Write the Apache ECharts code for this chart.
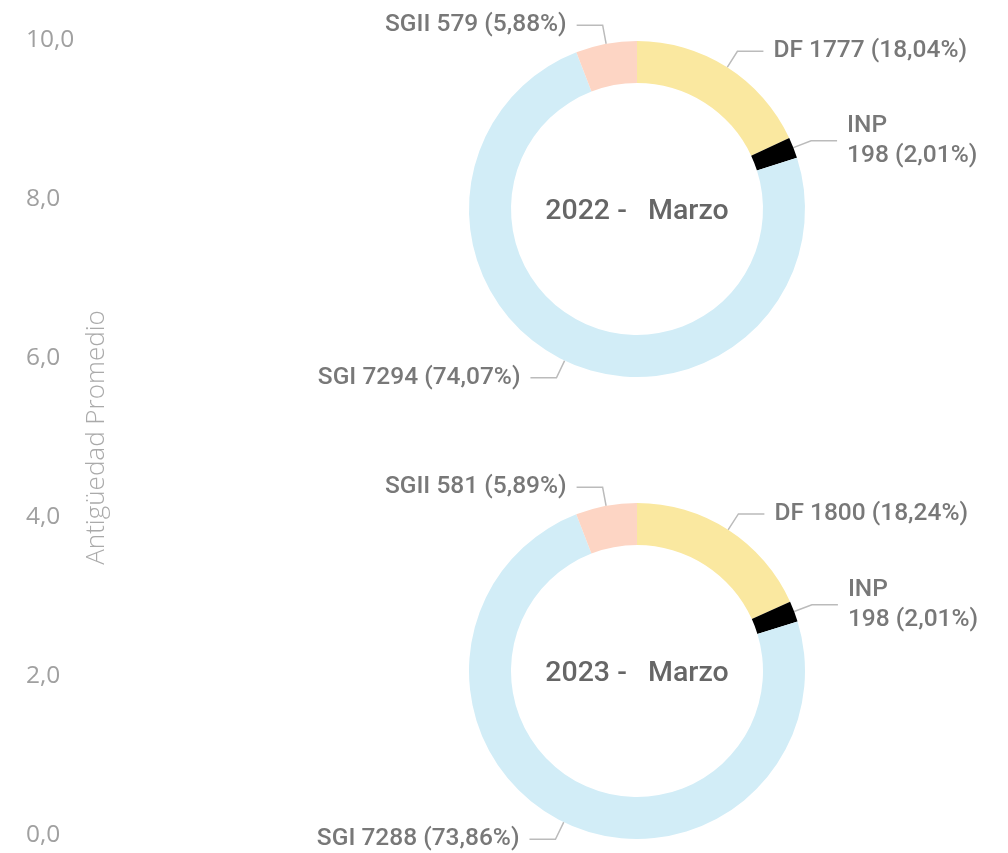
<!DOCTYPE html>
<html><head><meta charset="utf-8">
<script src="https://cdn.jsdelivr.net/npm/echarts@6/dist/echarts.min.js"></script>
<style>html,body{margin:0;padding:0;background:#fff}#c{width:1008px;height:853px}</style>
</head><body><div id="c"></div>
<script>
const categories = ['DF', 'INP', 'SGI', 'SGII'];
const values2022 = [1777, 198, 7294, 579];
const values2023 = [1800, 198, 7288, 581];
const centerTitles = ['2022 -   Marzo', '2023 -   Marzo'];
const yTicks = [0, 2, 4, 6, 8, 10];
const colors = ['#FAE8A0', '#000000', '#D2EDF7', '#FDD5C4'];

const chart = echarts.init(document.getElementById('c'));
function fmt(p) {
  const pct = p.percent.toFixed(2).replace('.', ',');
  const sep = p.name === 'INP' ? '\n' : ' ';
  return p.name + sep + p.value + ' (' + pct + '%)';
}
function pie(vals, cy) {
  return {
    type: 'pie', center: [637, cy], radius: [126, 168], startAngle: 90, clockwise: true,
    avoidLabelOverlap: false, animation: false,
    data: categories.map((c, i) => ({ name: c, value: vals[i], itemStyle: { color: colors[i] } })),
    label: { show: true, formatter: fmt, color: '#787878', fontSize: 24.5, fontWeight: 500, fontFamily: 'Roboto',
      lineHeight: 30, distanceToLabelLine: 10 },
    labelLine: { show: true, length: 19, length2: 26, lineStyle: { color: '#bbb', width: 1.5 } },
    emphasis: { disabled: true }
  };
}
const titleStyle = { color: '#666', fontSize: 28.5, fontWeight: 500, fontFamily: 'Roboto' };
chart.setOption({
  animation: false,
  title: [
    { text: centerTitles[0], left: 632, top: 207, textAlign: 'center', textVerticalAlign: 'middle', textStyle: titleStyle },
    { text: centerTitles[1], left: 632, top: 669, textAlign: 'center', textVerticalAlign: 'middle', textStyle: titleStyle }
  ],
  grid: { left: 112, right: 20, top: 40, bottom: 18 },
  xAxis: { type: 'value', show: false },
  yAxis: {
    type: 'value', min: yTicks[0], max: yTicks[yTicks.length - 1], interval: 2,
    name: 'Antigüedad Promedio', nameLocation: 'middle', nameRotate: 90, nameGap: 2, nameMoveOverlap: false,
    nameTextStyle: { color: '#aaa', fontSize: 26, fontFamily: 'Open Sans', fontWeight: 300 },
    axisLine: { show: false }, axisTick: { show: false }, splitLine: { show: false },
    axisLabel: { align: 'left', margin: 86, color: '#a0a0a0', fontSize: 24.5, fontFamily: 'Open Sans', fontWeight: 400,
      formatter: v => v.toFixed(1).replace('.', ',') }
  },
  series: [pie(values2022, 209), pie(values2023, 671)]
});
</script></body></html>
